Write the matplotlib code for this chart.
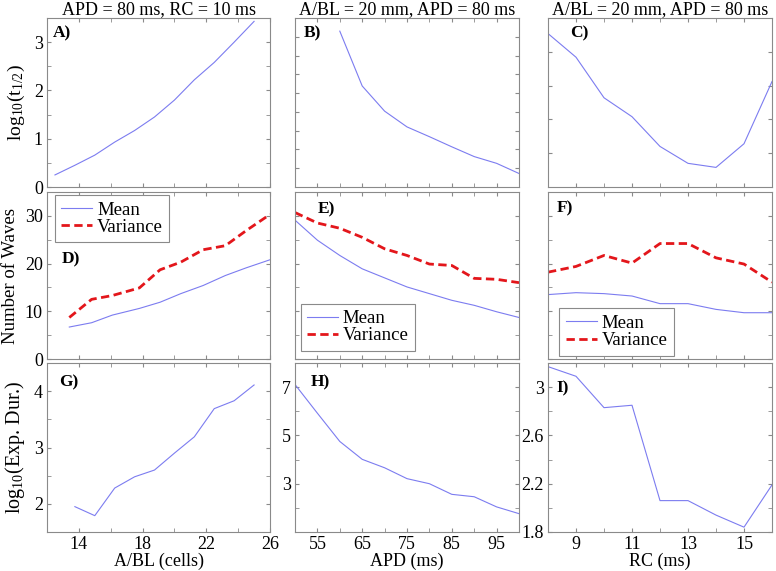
import numpy as np
import matplotlib.pyplot as plt
from matplotlib.ticker import FixedLocator, FormatStrFormatter, NullFormatter

plt.rcParams['font.family'] = ['Liberation Serif', 'DejaVu Serif']
plt.rcParams['mathtext.fontset'] = 'custom'
plt.rcParams['mathtext.rm'] = 'Liberation Serif'
plt.rcParams['mathtext.default'] = 'regular'

# ---- data ----
# column 1: A/BL (cells)
abl_a = [12.5, 13.75, 15, 16.25, 17.5, 18.75, 20, 21.25, 22.5, 23.75, 25]
t_half_abl = [0.25, 0.45, 0.66, 0.93, 1.17, 1.45, 1.8, 2.22, 2.58, 3.0, 3.43]
abl_d = [13.4, 14.8, 16.1, 17.8, 19.1, 20.4, 21.8, 23.2, 24.5, 26]
mean_abl = [6.7, 7.6, 9.2, 10.6, 11.9, 13.7, 15.4, 17.5, 19.1, 20.8]
var_abl = [8.7, 12.5, 13.3, 14.9, 18.7, 20.3, 22.9, 23.75, 26.9, 30.3]
abl_g = [13.75, 15, 16.25, 17.5, 18.75, 20, 21.25, 22.5, 23.75, 25]
dur_abl = [1.95, 1.79, 2.28, 2.48, 2.6, 2.9, 3.19, 3.69, 3.83, 4.11]

# column 2: APD (ms)
apd_b = [60, 65, 70, 75, 80, 85, 90, 95, 100]
t_half_apd = [4.15, 2.69, 2.02, 1.6, 1.34, 1.07, 0.81, 0.63, 0.36]
apd = [50, 55, 60, 65, 70, 75, 80, 85, 90, 95, 100]
mean_apd = [29.1, 24.9, 21.7, 18.9, 17.0, 15.1, 13.7, 12.3, 11.25, 9.9, 8.7]
var_apd = [30.7, 28.5, 27.4, 25.5, 23.1, 21.7, 19.9, 19.6, 16.9, 16.7, 16.0]
dur_apd = [7.11, 5.92, 4.75, 4.01, 3.66, 3.21, 3.0, 2.56, 2.46, 2.04, 1.76]

# column 3: RC (ms)
rc = [8, 9, 10, 11, 12, 13, 14, 15, 16]
t_half_rc = [4.77, 4.42, 3.82, 3.54, 3.1, 2.85, 2.79, 3.14, 4.06]
mean_rc = [13.5, 13.9, 13.7, 13.2, 11.6, 11.6, 10.4, 9.7, 9.7]
var_rc = [18.2, 19.4, 21.7, 20.1, 24.2, 24.2, 21.2, 19.9, 16.1]
dur_rc = [3.17, 3.09, 2.83, 2.85, 2.06, 2.06, 1.94, 1.84, 2.19]

titles = ['APD = 80 ms, RC = 10 ms', 'A/BL = 20 mm, APD = 80 ms', 'A/BL = 20 mm, APD = 80 ms']
xlabels = ['A/BL (cells)', 'APD (ms)', 'RC (ms)']
ylabels = ['log$_{10}$(t$_{1/2}$)', 'Number of Waves', 'log$_{10}$(Exp. Dur.)']

W, H = 776, 571
fig = plt.figure(figsize=(W / 100, H / 100), dpi=100)

cols = [(47, 270), (295, 519), (548, 772)]
rows = [(18, 187), (192, 359), (363, 532)]

MEAN_C = '#7c7cf0'
VAR_C = '#e3161b'
FRAME = '#8a8a8a'
DASH = (0, (3, 1.6))

xlims = [(12, 26), (50, 100), (8, 16)]
xmaj = [[14, 18, 22, 26], [55, 65, 75, 85, 95], [9, 11, 13, 15]]
xmin = [[16, 20, 24], [60, 70, 80, 90], [10, 12, 14]]

def make_ax(r, c):
    x0, x1 = cols[c]
    y0, y1 = rows[r]
    ax = fig.add_axes([x0 / W, 1 - y1 / H, (x1 - x0) / W, (y1 - y0) / H])
    for s in ax.spines.values():
        s.set_color(FRAME)
        s.set_linewidth(0.8)
    ax.tick_params(which='both', direction='in', length=3, color=FRAME,
                   top=True, right=True, labelsize=13, pad=3)
    ax.set_xlim(*xlims[c])
    ax.xaxis.set_major_locator(FixedLocator(xmaj[c]))
    ax.xaxis.set_minor_locator(FixedLocator(xmin[c]))
    if r < 2:
        ax.xaxis.set_major_formatter(NullFormatter())
    else:
        ax.set_xlabel(xlabels[c], fontsize=13, labelpad=0)
    return ax

def set_y(ax, lim, maj, mnr, labels):
    ax.set_ylim(*lim)
    ax.yaxis.set_major_locator(FixedLocator(maj))
    ax.yaxis.set_minor_locator(FixedLocator(mnr))
    if labels:
        ax.yaxis.set_major_formatter(FormatStrFormatter('%g'))
    else:
        ax.yaxis.set_major_formatter(NullFormatter())

def tag(ax, s, x, y):
    ax.text(x, y, s, transform=ax.transAxes, fontsize=12.5, fontweight='bold',
            ha='left', va='top')

def legend(ax, loc, anchor):
    lg = ax.legend(loc=loc, bbox_to_anchor=anchor, borderaxespad=0, fontsize=13.5,
                   handlelength=1.65, handletextpad=0.25, borderpad=0.35,
                   labelspacing=0.0, fancybox=False, framealpha=1)
    lg.get_frame().set_edgecolor(FRAME)
    lg.get_frame().set_linewidth(0.8)

# row 1: log10(t1/2)
ax = make_ax(0, 0)
ax.plot(abl_a, t_half_abl, color=MEAN_C, lw=0.8)
set_y(ax, (0, 3.5), [0, 1, 2, 3], [0.5, 1.5, 2.5], True)
ax.set_ylabel(ylabels[0], fontsize=14, labelpad=5)
ax.set_title(titles[0], fontsize=13, pad=2)
tag(ax, 'A)', 0.027, 0.955)

ax = make_ax(0, 1)
ax.plot(apd_b, t_half_apd, color=MEAN_C, lw=0.8)
set_y(ax, (0, 4.5), np.arange(0.5, 4.5, 0.5), [], False)
ax.set_title(titles[1], fontsize=13, pad=2)
tag(ax, 'B)', 0.04, 0.955)

ax = make_ax(0, 2)
ax.plot(rc, t_half_rc, color=MEAN_C, lw=0.8)
set_y(ax, (2.5, 5.0), [3, 3.5, 4, 4.5], [], False)
ax.set_title(titles[2], fontsize=13, pad=2)
tag(ax, 'C)', 0.098, 0.955)

# row 2: number of waves
ax = make_ax(1, 0)
ax.plot(abl_d, mean_abl, color=MEAN_C, lw=0.8, label='Mean')
ax.plot(abl_d, var_abl, color=VAR_C, lw=2, ls=DASH, label='Variance')
set_y(ax, (0, 35), [0, 10, 20, 30], [5, 15, 25], True)
ax.set_ylabel(ylabels[1], fontsize=13.5, labelpad=4)
tag(ax, 'D)', 0.067, 0.645)
legend(ax, 'upper left', (0.035, 0.982))

ax = make_ax(1, 1)
ax.plot(apd, mean_apd, color=MEAN_C, lw=0.8, label='Mean')
ax.plot(apd, var_apd, color=VAR_C, lw=2, ls=DASH, label='Variance')
set_y(ax, (0, 35), [0, 10, 20, 30], [5, 15, 25], False)
tag(ax, 'E)', 0.103, 0.945)
legend(ax, 'lower left', (0.025, 0.048))

ax = make_ax(1, 2)
ax.plot(rc, mean_rc, color=MEAN_C, lw=0.8, label='Mean')
ax.plot(rc, var_rc, color=VAR_C, lw=2, ls=DASH, label='Variance')
set_y(ax, (0, 35), [0, 10, 20, 30], [5, 15, 25], False)
tag(ax, 'F)', 0.04, 0.95)
legend(ax, 'lower left', (0.05, 0.02))

# row 3: log10(experiment duration)
ax = make_ax(2, 0)
ax.plot(abl_g, dur_abl, color=MEAN_C, lw=0.8)
set_y(ax, (1.5, 4.5), [2, 3, 4], [2.5, 3.5], True)
ax.set_ylabel(ylabels[2], fontsize=14.5, labelpad=5)
tag(ax, 'G)', 0.054, 0.93)

ax = make_ax(2, 1)
ax.plot(apd, dur_apd, color=MEAN_C, lw=0.8)
set_y(ax, (1, 8), [3, 5, 7], [2, 4, 6], True)
tag(ax, 'H)', 0.071, 0.93)

ax = make_ax(2, 2)
ax.plot(rc, dur_rc, color=MEAN_C, lw=0.8)
set_y(ax, (1.8, 3.2), [1.8, 2.2, 2.6, 3.0], [2.0, 2.4, 2.8], True)
tag(ax, 'I)', 0.036, 0.895)

fig.savefig('out.png', dpi=100)
